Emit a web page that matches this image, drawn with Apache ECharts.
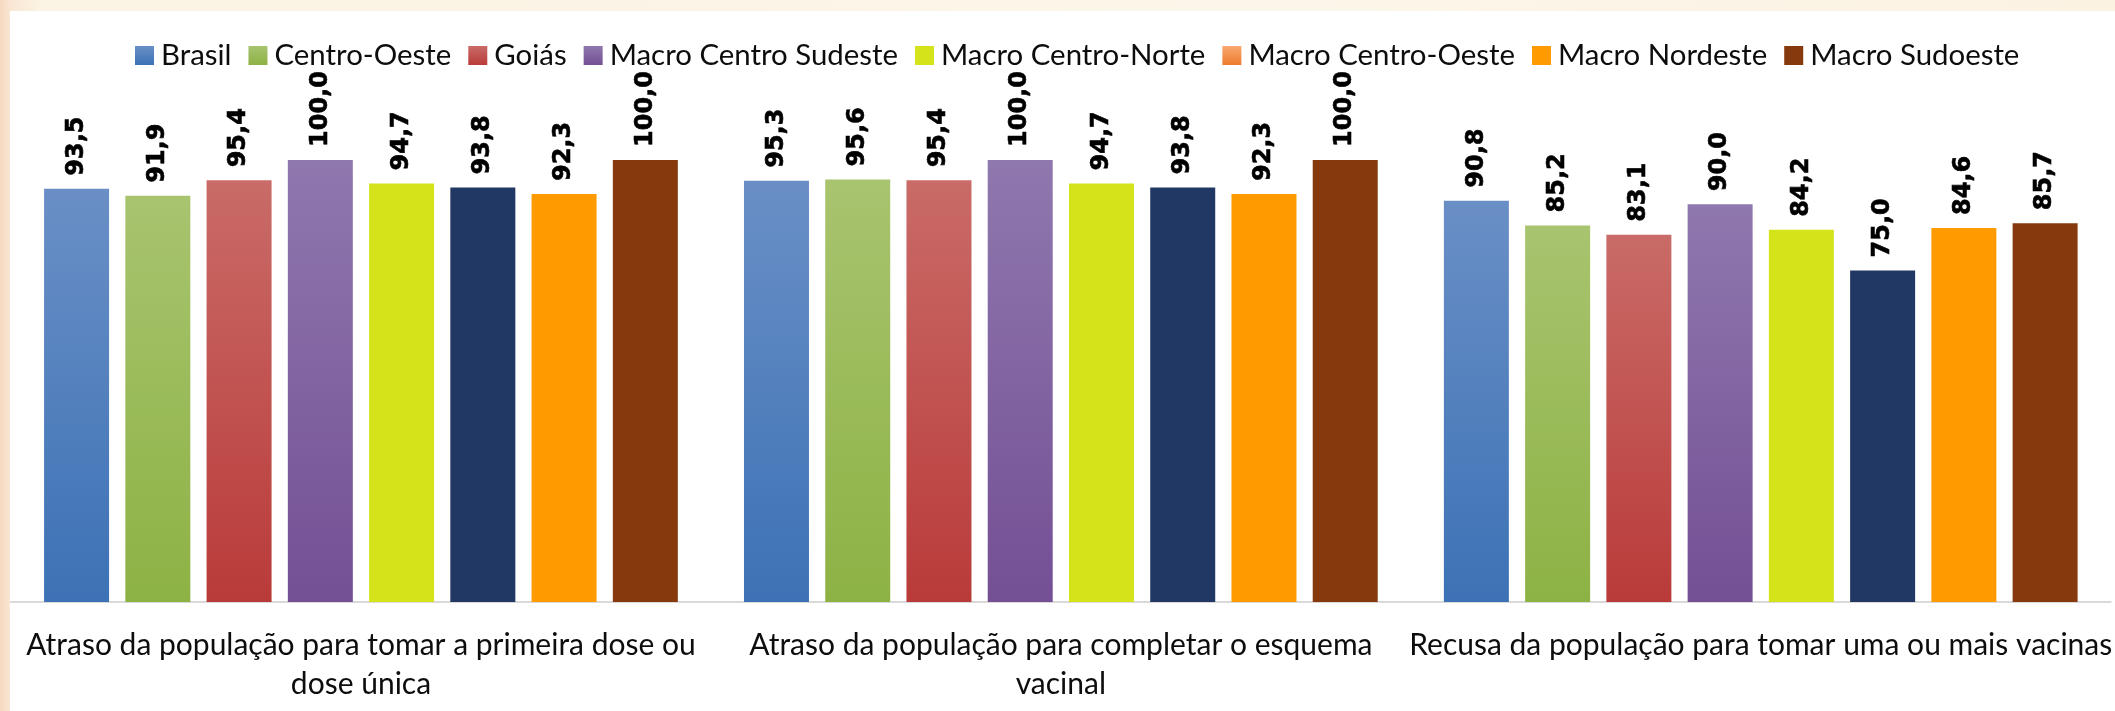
<!DOCTYPE html>
<html>
<head>
<meta charset="utf-8">
<script src="https://cdn.jsdelivr.net/npm/echarts@6/dist/echarts.min.js"></script>
<style>
  html, body { margin: 0; padding: 0; }
  body {
    width: 2115px; height: 711px; overflow: hidden; position: relative;
    background: linear-gradient(90deg, #f6d9c0 0px, #f9e6d3 10px, #fbf3e3 40px, #fcf6ea 60%, #fbf2e2 100%);
  }
  #paper { position: absolute; left: 10px; top: 11px; right: 0; bottom: 0; background: #ffffff; }
  #chart { position: absolute; left: 0; top: 0; width: 2115px; height: 711px; }
</style>
</head>
<body>
<div id="paper"></div>
<div id="chart"></div>
<script>
const categories = [
  "Atraso da população para tomar a primeira dose ou\ndose única",
  "Atraso da população para completar o esquema\nvacinal",
  "Recusa da população para tomar uma ou mais vacinas"
];
const seriesNames = ["Brasil", "Centro-Oeste", "Goiás", "Macro Centro Sudeste", "Macro Centro-Norte", "Macro Centro-Oeste", "Macro Nordeste", "Macro Sudoeste"];
const brasil            = [93.5, 95.3, 90.8];
const centroOeste       = [91.9, 95.6, 85.2];
const goias             = [95.4, 95.4, 83.1];
const macroCentroSudeste= [100.0, 100.0, 90.0];
const macroCentroNorte  = [94.7, 94.7, 84.2];
const macroCentroOeste  = [93.8, 93.8, 75.0];
const macroNordeste     = [92.3, 92.3, 84.6];
const macroSudoeste     = [100.0, 100.0, 85.7];
const values = [brasil, centroOeste, goias, macroCentroSudeste, macroCentroNorte, macroCentroOeste, macroNordeste, macroSudoeste];

function grad(top, bottom) {
  return new echarts.graphic.LinearGradient(0, 0, 0, 1, [
    { offset: 0, color: top }, { offset: 1, color: bottom }
  ]);
}
const barColors = [
  grad('#6a8fc6', '#3c72b5'),
  grad('#a8c46f', '#8db244'),
  grad('#c96b68', '#b93b39'),
  grad('#8f78ae', '#744f94'),
  '#d4e31a',
  '#213864',
  '#ff9a00',
  '#85390d'
];
const legendColors = barColors.slice();
legendColors[5] = grad('#f9a970', '#ee7a2e');

const chart = echarts.init(document.getElementById('chart'), null, { renderer: 'canvas' });
const option = {
  backgroundColor: 'transparent',
  animation: false,
  legend: {
    left: 130,
    top: 36,
    icon: 'rect',
    itemWidth: 19,
    itemHeight: 19,
    itemGap: 17,
    textStyle: { fontFamily: 'Lato', fontSize: 29.4, color: '#0d0d0d', padding: [0, 0, 0, 2] },
    data: seriesNames.map((n, i) => ({ name: n, itemStyle: { color: legendColors[i] } }))
  },
  grid: { left: 11, right: 3, top: 160, bottom: 109, containLabel: false },
  xAxis: {
    type: 'category',
    data: categories,
    axisLine: { show: true, lineStyle: { color: '#d9d9d9', width: 2 } },
    axisTick: { show: false },
    axisLabel: {
      interval: 0,
      margin: 24,
      fontFamily: 'Lato',
      fontSize: 30,
      lineHeight: 39,
      color: '#0d0d0d',
      align: 'center'
    }
  },
  yAxis: { type: 'value', min: 0, max: 100, show: false, splitLine: { show: false } },
  series: seriesNames.map((n, i) => ({
    name: n,
    type: 'bar',
    data: values[i],
    barWidth: 65,
    barGap: '25%',
    itemStyle: { color: barColors[i] },
    label: {
      show: true,
      position: 'top',
      rotate: 90,
      align: 'left',
      verticalAlign: 'middle',
      distance: 13,
      fontFamily: 'DejaVu Sans',
      fontWeight: 'bold',
      fontSize: 24,
      color: '#000',
      textBorderColor: '#000',
      textBorderWidth: 0.6,
      formatter: p => p.value.toFixed(1).replace('.', ',')
    }
  }))
};
chart.setOption(option);
</script>
</body>
</html>
